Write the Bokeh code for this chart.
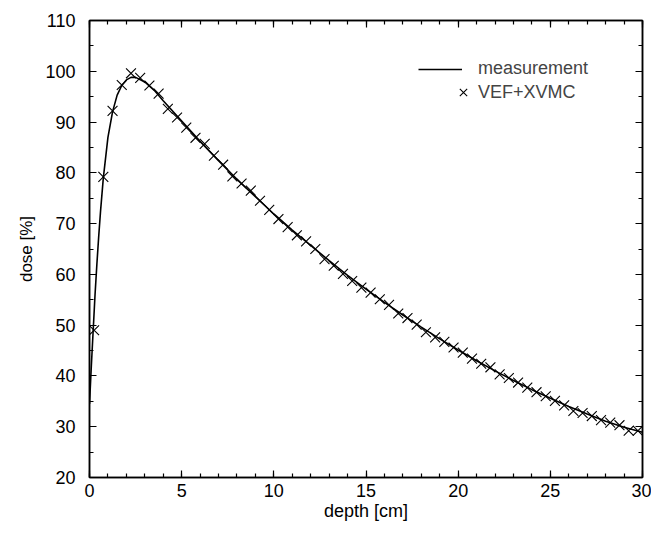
from bokeh.plotting import figure
from bokeh.models import LinearAxis, SingleIntervalTicker, Legend, LegendItem, Range1d
from bokeh.embed import file_html
from bokeh.resources import INLINE

# measurement curve (depth in cm, dose in %)
meas_depth = [0.0, 0.1, 0.2, 0.3, 0.4, 0.5, 0.6, 0.75, 1.0, 1.25, 1.5, 1.75, 2.0, 2.25, 2.5,
              3.0, 3.5, 4.0, 5.0, 6.0, 7.0, 8.0, 9.0, 10.0, 11.0, 12.0, 13.0, 14.0, 15.0,
              16.0, 17.0, 18.0, 19.0, 20.0, 21.0, 22.0, 23.0, 24.0, 25.0, 26.0, 27.0,
              28.0, 29.0, 30.0]
meas_dose = [34.5, 42.0, 49.0, 56.0, 62.0, 67.5, 72.5, 79.0, 87.0, 92.0, 95.3, 97.2, 98.3, 98.8, 98.8,
             97.9, 96.3, 94.2, 90.2, 86.2, 82.4, 78.7, 75.3, 71.9, 68.7, 65.7, 62.7, 59.8, 57.1,
             54.5, 52.0, 49.6, 47.3, 45.1, 43.0, 41.0, 39.1, 37.3, 35.6, 34.0, 32.5,
             31.1, 29.9, 28.9]

# VEF+XVMC calculation
calc_depth = [0.25, 0.75, 1.25, 1.75, 2.25, 2.75, 3.25, 3.75, 4.25, 4.75, 5.25, 5.75, 6.25, 6.75,
              7.25, 7.75, 8.25, 8.75, 9.25, 9.75, 10.25, 10.75, 11.25, 11.75, 12.25, 12.75,
              13.25, 13.75, 14.25, 14.75, 15.25, 15.75, 16.25, 16.75, 17.25, 17.75, 18.25,
              18.75, 19.25, 19.75, 20.25, 20.75, 21.25, 21.75, 22.25, 22.75, 23.25, 23.75,
              24.25, 24.75, 25.25, 25.75, 26.25, 26.75, 27.25, 27.75, 28.25, 28.75, 29.25, 29.75]
calc_dose = [49.0, 79.2, 92.2, 97.3, 99.6, 98.7, 97.2, 95.6, 92.6, 90.9, 88.9, 86.9, 85.7, 83.4,
             81.6, 79.3, 77.9, 76.5, 74.5, 72.7, 70.9, 69.3, 67.7, 66.5, 65.0, 63.0,
             61.7, 60.1, 58.7, 57.4, 56.4, 55.1, 54.0, 52.3, 51.4, 50.1, 48.6,
             47.6, 46.7, 45.6, 44.6, 43.4, 42.4, 41.7, 40.3, 39.6, 38.7, 37.7,
             36.8, 36.0, 35.1, 34.2, 33.1, 32.7, 32.1, 31.3, 30.8, 30.3, 29.2, 29.2]

x_label = "depth [cm]"
y_label = "dose [%]"
legend_labels = ["measurement", "VEF+XVMC"]

FONT = "Liberation Sans"

p = figure(width=651, height=523, output_backend="svg", toolbar_location=None,
           x_range=Range1d(0, 30), y_range=Range1d(20, 110),
           x_axis_label=x_label, y_axis_label=y_label,
           min_border_left=89, min_border_right=9, min_border_top=20, min_border_bottom=44)
p.xgrid.visible = False
p.ygrid.visible = False
p.outline_line_color = "black"
p.outline_line_width = 1.5
p.background_fill_color = "white"
p.border_fill_color = "white"

def style(ax, labels=True):
    ax.axis_line_color = "black"
    ax.axis_line_width = 1.5
    ax.major_tick_in = 7
    ax.major_tick_out = 0
    ax.minor_tick_in = 4
    ax.minor_tick_out = 0
    ax.major_tick_line_width = 1.2
    ax.minor_tick_line_width = 1.2
    ax.major_label_text_font = FONT
    ax.major_label_text_font_size = "18px"
    ax.major_label_text_color = "black"
    ax.axis_label_text_font = FONT
    ax.axis_label_text_font_style = "normal"
    ax.axis_label_text_color = "black"
    if not labels:
        ax.major_label_text_font_size = "0px"
        ax.major_label_text_alpha = 0
        ax.major_label_standoff = 0

p.xaxis.ticker = SingleIntervalTicker(interval=5, num_minor_ticks=5)
p.yaxis.ticker = SingleIntervalTicker(interval=10, num_minor_ticks=2)
style(p.xaxis[0])
style(p.yaxis[0])
p.xaxis.axis_label_text_font_size = "18px"
p.yaxis.axis_label_text_font_size = "17px"
p.xaxis.major_label_standoff = 6
p.xaxis.axis_label_standoff = 1
p.yaxis.major_label_standoff = 14
p.yaxis.axis_label_standoff = 6

top = LinearAxis(ticker=SingleIntervalTicker(interval=5, num_minor_ticks=5))
style(top, labels=False)
p.add_layout(top, "above")
right = LinearAxis(ticker=SingleIntervalTicker(interval=10, num_minor_ticks=2))
style(right, labels=False)
p.add_layout(right, "right")

r_line = p.line(meas_depth, meas_dose, line_color="black", line_width=1.6)
r_pts = p.scatter(calc_depth, calc_dose, marker="x", size=14, line_color="black", line_width=1.1)

common = dict(orientation="vertical", border_line_color=None, background_fill_alpha=0,
              spacing=0, padding=0, margin=0,
              label_text_font=FONT, label_text_font_size="18px")
leg1 = Legend(items=[LegendItem(label=legend_labels[0], renderers=[r_line])],
              location=(329, 398), glyph_width=44, glyph_height=20, label_height=20,
              label_standoff=16, **common)
leg2 = Legend(items=[LegendItem(label=legend_labels[1], renderers=[r_pts])],
              location=(361, 372), glyph_width=26, glyph_height=26, label_height=26,
              label_standoff=2, **common)
p.add_layout(leg1, "center")
p.add_layout(leg2, "center")

open("out.html", "w").write(file_html(p, INLINE))
